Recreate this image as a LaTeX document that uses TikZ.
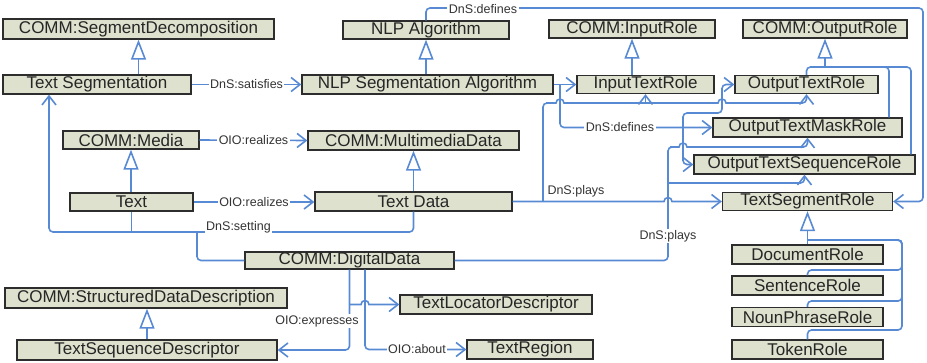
\documentclass[tikz,border=0pt]{standalone}
\usepackage{fontspec}
\setmainfont{Liberation Sans}
\usetikzlibrary{arrows.meta,calc}
\definecolor{boxFill}{RGB}{221,225,205}
\definecolor{penColor}{RGB}{45,45,45}
\definecolor{lineColor}{RGB}{88,138,212}
\tikzset{
  cls/.style={draw=penColor, line width=1.3pt, fill=boxFill, inner sep=0pt,
    font=\fontsize{17}{17}\selectfont, text=black!85},
  rel/.style={lineColor, line width=1.6pt},
  assoc/.style={rel, -{Straight Barb[length=9pt,width=14pt]}},
  isa/.style={rel, -{Triangle[length=20pt,width=15pt,fill=white]}},
  lbl/.style={font=\fontsize{12.5}{13}\selectfont, text=black!80, fill=white, inner sep=1.5pt},
}

\begin{document}
\begin{tikzpicture}[x=1pt,y=-1pt]
\useasboundingbox (0,0) rectangle (927,362);
% classes
\node[cls, minimum width=271pt, minimum height=20pt] (segdec) at (138.5,29) {COMM:SegmentDecomposition};
\node[cls, minimum width=188pt, minimum height=19pt] (textseg) at (97,84.5) {Text Segmentation};
\node[cls, minimum width=166pt, minimum height=18pt] (nlpalg) at (426,30) {NLP Algorithm};
\node[cls, minimum width=251pt, minimum height=19pt] (nlpseg) at (427.5,84.5) {NLP Segmentation Algorithm};
\node[cls, minimum width=166pt, minimum height=18pt] (inrole) at (632,29) {COMM:InputRole};
\node[cls, minimum width=164pt, minimum height=18pt] (outrole) at (825,29) {COMM:OutputRole};
\node[cls, minimum width=137pt, minimum height=18pt] (intext) at (645.5,84.5) {InputTextRole};
\node[cls, minimum width=143pt, minimum height=18pt] (outtext) at (806.5,84.5) {OutputTextRole};
\node[cls, minimum width=189pt, minimum height=19pt] (outmask) at (807.5,127.5) {OutputTextMaskRole};
\node[cls, minimum width=221pt, minimum height=19pt] (outseq) at (804.5,164.5) {OutputTextSequenceRole};
\node[cls, minimum width=170pt, minimum height=18pt] (tsegrole) at (807.5,201.5) {TextSegmentRole};
\node[cls, minimum width=151pt, minimum height=19pt] (docrole) at (807.5,254.5) {DocumentRole};
\node[cls, minimum width=151pt, minimum height=19pt] (sentrole) at (807.5,285.5) {SentenceRole};
\node[cls, minimum width=151pt, minimum height=19pt] (nprole) at (807.5,317) {NounPhraseRole};
\node[cls, minimum width=151pt, minimum height=19pt] (tokrole) at (807.5,349.5) {TokenRole};
\node[cls, minimum width=136pt, minimum height=18pt] (media) at (131,140) {COMM:Media};
\node[cls, minimum width=123pt, minimum height=18pt] (text) at (131.5,202) {Text};
\node[cls, minimum width=211pt, minimum height=19pt] (mmdata) at (413.5,140.5) {COMM:MultimediaData};
\node[cls, minimum width=197pt, minimum height=19pt] (tdata) at (413.5,201.5) {Text Data};
\node[cls, minimum width=209pt, minimum height=17pt] (digdata) at (349.5,260.5) {COMM:DigitalData};
\node[cls, minimum width=282pt, minimum height=20pt] (sdd) at (146,298) {COMM:StructuredDataDescription};
\node[cls, minimum width=260pt, minimum height=20pt] (tsd) at (147,350) {TextSequenceDescriptor};
\node[cls, minimum width=192pt, minimum height=19pt] (tld) at (496,304.5) {TextLocatorDescriptor};
\node[cls, minimum width=126pt, minimum height=19pt] (tregion) at (530,349.5) {TextRegion};

% subclass links
\draw[isa] (textseg.north -| segdec.south) -- (segdec.south);
\draw[isa] (nlpseg.north -| nlpalg.south) -- (nlpalg.south);
\draw[isa] (intext.north -| inrole.south) -- (inrole.south);
\draw[isa] (text.north -| media.south) -- (media.south);
\draw[isa] (tdata.north) -- (mmdata.south);
\draw[isa] (tsd.north) -- (tsd.north |- sdd.south);
\draw[isa] (docrole.north) -- (tsegrole.south);

\coordinate (outjoin) at (825,67);
\coordinate (ob1) at (889,67);
\coordinate (ob2) at (911,67);
\draw[isa] (outjoin) -- (outrole.south);
\draw[rel, rounded corners=4pt] (outtext.north) |- (outjoin);
\draw[rel, rounded corners=4pt] (ob1 |- outmask.north) -- (ob1) -- (outjoin);
\draw[rel, rounded corners=4pt] (ob2 |- outseq.north) -- (ob2) -- (outjoin);

\coordinate (rbtop) at (902,240);
\coordinate (rbjoin) at (807.5,240);
\draw[rel, rounded corners=4pt] (sentrole.north) |- (902,270) -- (rbtop) -- (rbjoin);
\draw[rel, rounded corners=4pt] (nprole.north) |- (902,301) -- (rbtop) -- (rbjoin);
\draw[rel, rounded corners=4pt] (tokrole.north) |- (902,330) -- (rbtop) -- (rbjoin);

% relations
\draw[assoc] (textseg.east) -- (nlpseg.west);
\draw[assoc] (media.east) -- (mmdata.west);
\draw[assoc] (text.east) -- (tdata.west |- text.east);

\coordinate (setL) at (49,232);
\coordinate (setD) at (197,232);
\draw[assoc, rounded corners=4pt] (tdata.south) |- (setL) -- (setL |- textseg.south);
\draw[rel] (text.south) -- (text.south |- setL);
\draw[rel, rounded corners=4pt] (digdata.west) -| (setD);

\coordinate (defTR) at (923,8);
\draw[assoc, rounded corners=4pt] (nlpalg.north) |- (defTR) |- (tsegrole.east);

\coordinate (defA) at (560,84.5);
\coordinate (defB) at (683,127.5);
\coordinate (defC) at (722,113);
\draw[assoc] (nlpseg.east) -- (intext.west);
\draw[assoc, rounded corners=4pt] (defA) |- (outmask.west);
\draw[assoc, rounded corners=4pt] (defB) |- (defC) |- (outtext.west);
\draw[assoc, rounded corners=4pt] (defB) |- (outseq.west);

\coordinate (playA) at (543,201.5);
\coordinate (playB) at (645.5,103);
\coordinate (playC) at (668,183);
\draw[assoc] (tdata.east) -- (664,201.5) arc (180:360:4) -- (tsegrole.west);
\draw[assoc] (playA) [rounded corners=4pt] -- (543,103) -- (550,103) [sharp corners] -- (556,103)
  arc (180:360:4) -- (718,103) arc (180:360:4) -- (800,103) [rounded corners=4pt] -- (806.5,103) -- (outtext.south);
\draw[assoc] (playB) -- (intext.south);
\draw[assoc] (digdata.east) [rounded corners=4pt] -- (668,260.5) -- (668,147) -- (674,147) [sharp corners] -- (679,147)
  arc (180:360:4) -- (801,147) [rounded corners=4pt] -- (807.5,147) -- (outmask.south);
\draw[assoc, rounded corners=4pt] (playC) -| (outseq.south);

\coordinate (aboutTop) at ($(digdata.south)+(15.5,0)$);
\draw[assoc, rounded corners=4pt] (digdata.south) |- (tsd.east);
\draw[assoc] (digdata.south |- tld.west) -- (361,304.5) arc (180:360:4) -- (tld.west);
\draw[assoc, rounded corners=4pt] (aboutTop) |- (tregion.west);

% labels
\node[lbl] (lsat) at (246.5,84.5) {DnS:satisfies};
\node[lbl] (lreal1) at (253.5,140) {OIO:realizes};
\node[lbl] (lreal2) at (254,202) {OIO:realizes};
\node[lbl] (lset) at (238.5,227) {DnS:setting};
\node[lbl] (ldef1) at (483,9) {DnS:defines};
\node[lbl] (ldef2) at (620,127.5) {DnS:defines};
\node[lbl, fill=none] (lplay1) at (576,191.5) {DnS:plays};
\node[lbl] (lplay2) at (668,236) {DnS:plays};
\node[lbl] (lexp) at (317,321) {OIO:expresses};
\node[lbl] (labout) at (417,349.5) {OIO:about};
\end{tikzpicture}
\end{document}
